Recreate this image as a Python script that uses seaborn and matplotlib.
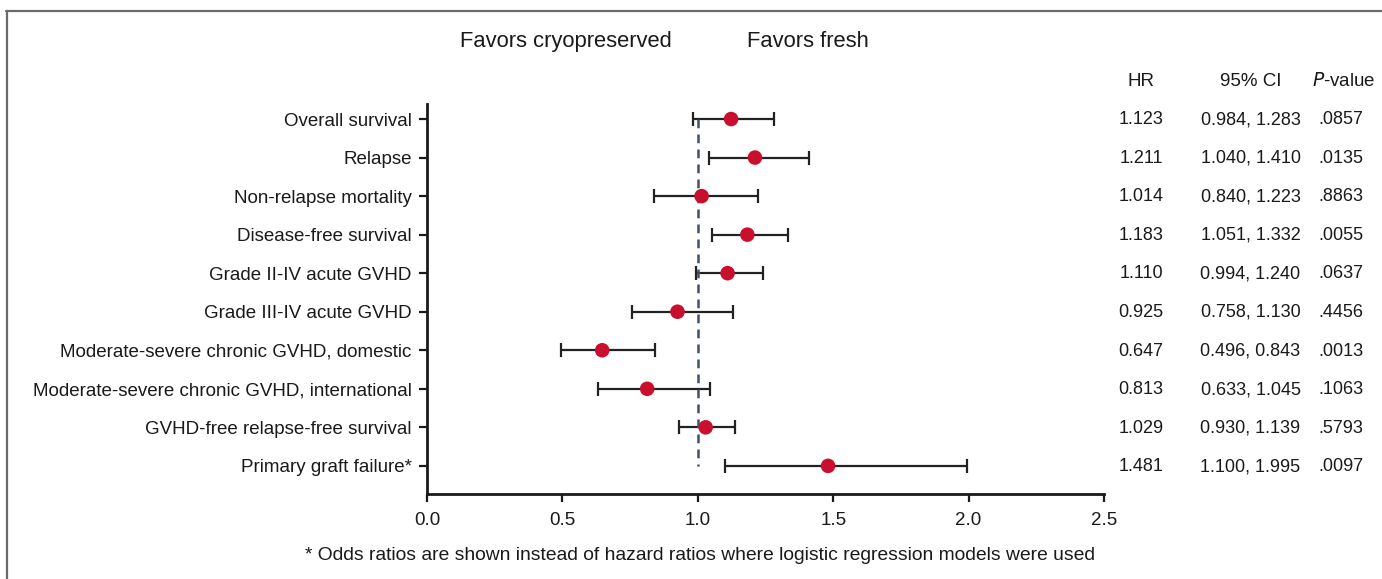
import matplotlib
matplotlib.use("Agg")
import matplotlib.pyplot as plt
from matplotlib.lines import Line2D
import seaborn as sns
import pandas as pd

outcomes = [
    "Overall survival",
    "Relapse",
    "Non-relapse mortality",
    "Disease-free survival",
    "Grade II-IV acute GVHD",
    "Grade III-IV acute GVHD",
    "Moderate-severe chronic GVHD, domestic",
    "Moderate-severe chronic GVHD, international",
    "GVHD-free relapse-free survival",
    "Primary graft failure*",
]
hr = [1.123, 1.211, 1.014, 1.183, 1.110, 0.925, 0.647, 0.813, 1.029, 1.481]
ci_low = [0.984, 1.040, 0.840, 1.051, 0.994, 0.758, 0.496, 0.633, 0.930, 1.100]
ci_high = [1.283, 1.410, 1.223, 1.332, 1.240, 1.130, 0.843, 1.045, 1.139, 1.995]
p_values = [".0857", ".0135", ".8863", ".0055", ".0637", ".4456", ".0013", ".1063", ".5793", ".0097"]
x_ticks = [0.0, 0.5, 1.0, 1.5, 2.0, 2.5]

sns.set_theme(style="white")
plt.rcParams["font.family"] = ["Liberation Sans", "DejaVu Sans"]

df = pd.DataFrame({"outcome": outcomes, "hr": hr, "lo": ci_low, "hi": ci_high, "p": p_values})
df["row"] = range(len(df))

fig = plt.figure(figsize=(13.82, 5.79), dpi=100)
ax = fig.add_axes([427 / 1382, 1 - 494 / 579, (1104 - 427) / 1382, (494 - 104) / 579])

red = "#c8102e"
dark = "#222222"
txt = "#1a1a1a"

ax.errorbar(df["hr"], df["row"],
            xerr=[df["hr"] - df["lo"], df["hi"] - df["hr"]],
            fmt="none", ecolor=dark, elinewidth=1.6, capsize=5, capthick=1.6, zorder=2)
ax.plot([1.0, 1.0], [0, len(df) - 1], linestyle=(0, (3.5, 2.5)), color="#3e5366", lw=1.8, zorder=3)
sns.scatterplot(data=df, x="hr", y="row", ax=ax, color=red, s=110, edgecolor="none", zorder=4)

ax.set_xlim(0, 2.5)
ax.set_ylim(len(df) - 1 + 0.73, -0.39)
ax.set_xticks(x_ticks)
ax.set_xticklabels([f"{t:.1f}" for t in x_ticks])
ax.set_yticks(df["row"])
ax.set_yticklabels(df["outcome"])
ax.set_xlabel("")
ax.set_ylabel("")
for s in ["top", "right"]:
    ax.spines[s].set_visible(False)
for s in ["left", "bottom"]:
    ax.spines[s].set_linewidth(2)
    ax.spines[s].set_color(txt)
ax.tick_params(axis="both", which="major", direction="out", length=6, width=1.6,
               bottom=True, left=True, color=txt, labelcolor=txt, pad=5)
ax.tick_params(axis="y", labelsize=13.5)
ax.tick_params(axis="x", labelsize=13.5, pad=7)

# Direction labels
ax.text(0.511, -2.0, "Favors cryopreserved", ha="center", va="center", fontsize=15.8, color=txt, clip_on=False)
ax.text(1.406, -2.0, "Favors fresh", ha="center", va="center", fontsize=15.8, color=txt, clip_on=False)

# Table
col_hr, col_ci, col_p = 2.637, 3.041, 3.376
fs_tab = 13.0
ax.text(col_hr, -0.985, "HR", ha="center", va="center", fontsize=13.5, color=txt, clip_on=False)
ax.text(col_ci, -0.985, "95% CI", ha="center", va="center", fontsize=13.5, color=txt, clip_on=False)
ax.text(col_p + 0.008, -0.985, "$\\it{P}$-value", ha="center", va="center", fontsize=13.5, color=txt, clip_on=False)
for _, r in df.iterrows():
    y = r["row"] + 0.02
    ax.text(col_hr, y, f"{r['hr']:.3f}", ha="center", va="center", fontsize=fs_tab, color=txt, clip_on=False)
    ax.text(col_ci, y, f"{r['lo']:.3f}, {r['hi']:.3f}", ha="center", va="center", fontsize=fs_tab, color=txt, clip_on=False)
    ax.text(col_p, y, r["p"], ha="center", va="center", fontsize=fs_tab, color=txt, clip_on=False)

fig.text(700 / 1382, 1 - 555 / 579,
         "* Odds ratios are shown instead of hazard ratios where logistic regression models were used",
         ha="center", va="center", fontsize=13.9, color=txt)

# Partial frame (top and left)
fig.add_artist(Line2D([6 / 1382, 1.0], [1 - 11 / 579, 1 - 11 / 579], transform=fig.transFigure, color="#6b6b6b", lw=1.6))
fig.add_artist(Line2D([7 / 1382, 7 / 1382], [0, 1 - 11 / 579], transform=fig.transFigure, color="#6b6b6b", lw=1.6))

fig.savefig("out.png", dpi=100, facecolor="white")
